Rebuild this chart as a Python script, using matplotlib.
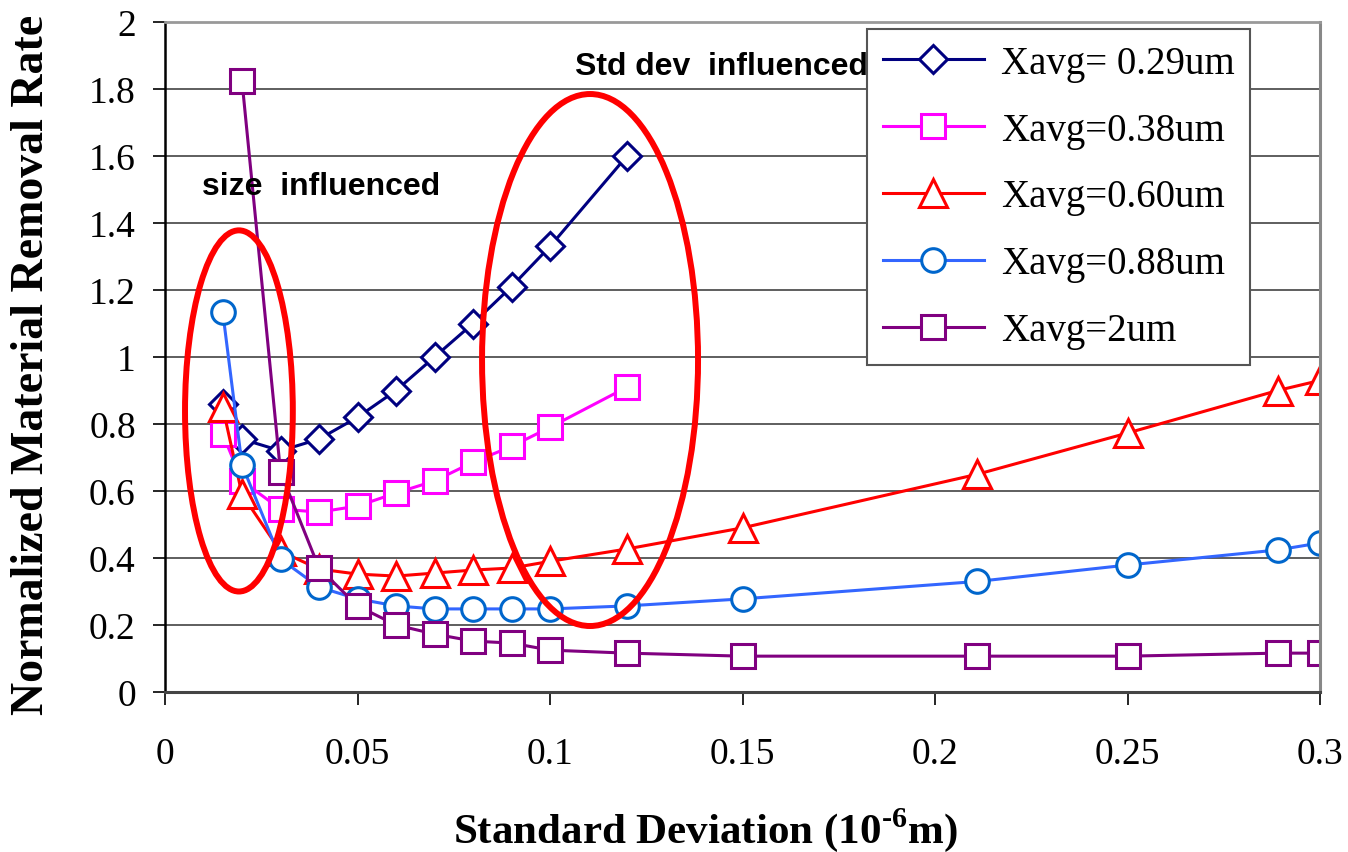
import numpy as np
import matplotlib
matplotlib.use('Agg')
import matplotlib.pyplot as plt
from matplotlib.patches import Ellipse

plt.rcParams['font.family'] = 'Liberation Serif'
plt.rcParams['mathtext.fontset'] = 'custom'
plt.rcParams['mathtext.rm'] = 'Liberation Serif:bold'
plt.rcParams['mathtext.bf'] = 'Liberation Serif:bold'

# data (std dev in 1e-6 m, normalized MRR)
x_029 = [0.015, 0.02, 0.03, 0.04, 0.05, 0.06, 0.07, 0.08, 0.09, 0.10, 0.12]
y_029 = [0.86, 0.755, 0.72, 0.755, 0.82, 0.90, 1.00, 1.10, 1.21, 1.33, 1.60]

x_038 = [0.015, 0.02, 0.03, 0.04, 0.05, 0.06, 0.07, 0.08, 0.09, 0.10, 0.12]
y_038 = [0.77, 0.63, 0.546, 0.537, 0.555, 0.594, 0.63, 0.686, 0.733, 0.79, 0.91]

x_060 = [0.015, 0.02, 0.03, 0.04, 0.05, 0.06, 0.07, 0.08, 0.09, 0.10, 0.12, 0.15, 0.211, 0.25, 0.289, 0.30]
y_060 = [0.85, 0.59, 0.42, 0.367, 0.352, 0.346, 0.355, 0.364, 0.37, 0.39, 0.427, 0.49, 0.65, 0.773, 0.90, 0.93]

x_088 = [0.015, 0.02, 0.03, 0.04, 0.05, 0.06, 0.07, 0.08, 0.09, 0.10, 0.12, 0.15, 0.211, 0.25, 0.289, 0.30]
y_088 = [1.134, 0.678, 0.397, 0.313, 0.278, 0.257, 0.248, 0.248, 0.248, 0.248, 0.257, 0.278, 0.33, 0.379, 0.424, 0.445]

x_2 = [0.02, 0.03, 0.04, 0.05, 0.06, 0.07, 0.08, 0.09, 0.10, 0.12, 0.15, 0.211, 0.25, 0.289, 0.30]
y_2 = [1.824, 0.657, 0.37, 0.257, 0.20, 0.173, 0.152, 0.146, 0.125, 0.116, 0.107, 0.107, 0.107, 0.116, 0.116]

labels = ['Xavg= 0.29um', 'Xavg=0.38um', 'Xavg=0.60um', 'Xavg=0.88um', 'Xavg=2um']

fig = plt.figure(figsize=(13.48, 8.53), dpi=100)
ax = fig.add_axes([165/1348, 1-693/853, (1320-165)/1348, (693-23)/853])

ax.plot(x_029, y_029, color='#000080', lw=2.2, marker='D', ms=14.5,
        mfc='white', mec='#000080', mew=2.2, label=labels[0])
ax.plot(x_038, y_038, color='#FF00FF', lw=2.2, marker='s', ms=17,
        mfc='white', mec='#FF00FF', mew=2.2, label=labels[1])
ax.plot(x_060, y_060, color='#FF0000', lw=2.2, marker='^', ms=20,
        mfc='white', mec='#FF0000', mew=2.2, label=labels[2])
ax.plot(x_088, y_088, color='#3366FF', lw=2.2, marker='o', ms=17,
        mfc='white', mec='#0066CC', mew=2.2, label=labels[3])
ax.plot(x_2, y_2, color='#800080', lw=2.2, marker='s', ms=17,
        mfc='white', mec='#800080', mew=2.2, label=labels[4])

# red ellipses marking the two regions
ax.add_patch(Ellipse((0.0192, 0.839), 0.028, 1.078, fill=False,
                     ec='#FF0000', lw=4.3, zorder=5))
ax.add_patch(Ellipse((0.1104, 0.991), 0.0561, 1.588, fill=False,
                     ec='#FF0000', lw=4.3, zorder=5))

ax.text(0.0095, 1.51, 'size  influenced', family='Liberation Sans',
        weight='bold', fontsize=23, va='center', ha='left', zorder=6)
ax.text(0.1065, 1.87, 'Std dev  influenced', family='Liberation Sans',
        weight='bold', fontsize=23, va='center', ha='left', zorder=6)

ax.set_xlim(0, 0.3)
ax.set_ylim(0, 2)
ax.set_xticks([0, 0.05, 0.1, 0.15, 0.2, 0.25, 0.3])
ax.set_xticklabels(['0', '0.05', '0.1', '0.15', '0.2', '0.25', '0.3'])
ax.set_yticks(np.arange(0, 2.01, 0.2))
ax.set_yticklabels(['0', '0.2', '0.4', '0.6', '0.8', '1', '1.2', '1.4', '1.6', '1.8', '2'])
ax.grid(axis='y', color='#333333', lw=1.1)
ax.set_axisbelow(True)
ax.tick_params(axis='x', direction='out', length=9, width=1.2, pad=23, labelsize=27)
ax.tick_params(axis='y', direction='out', length=9, width=1.2, pad=12, labelsize=27)

ax.spines['left'].set_color('black')
ax.spines['left'].set_linewidth(1.8)
ax.spines['bottom'].set_color('#444444')
ax.spines['bottom'].set_linewidth(2.2)
ax.spines['top'].set_color('#999999')
ax.spines['top'].set_linewidth(2)
ax.spines['right'].set_color('#888888')
ax.spines['right'].set_linewidth(2.2)

leg = ax.legend(loc='upper left', bbox_to_anchor=(867/1348, 1-30/853),
                bbox_transform=fig.transFigure, fontsize=28, frameon=True,
                fancybox=False, framealpha=1, edgecolor='#555555',
                handlelength=2.6, handletextpad=0.45, labelspacing=0.77,
                borderpad=0.4, borderaxespad=0)
leg.get_frame().set_linewidth(1.5)
leg.set_zorder(10)

fig.text(32/1348, 1-365/853, 'Normalized Material Removal Rate', rotation=90,
         fontsize=33, weight='bold', ha='center', va='center')
fig.text(705/1348, 1-830/853, 'Standard Deviation (10$^{\\text{-6}}$m)',
         fontsize=31, weight='bold', ha='center', va='center')

fig.savefig('out.png', dpi=100)
